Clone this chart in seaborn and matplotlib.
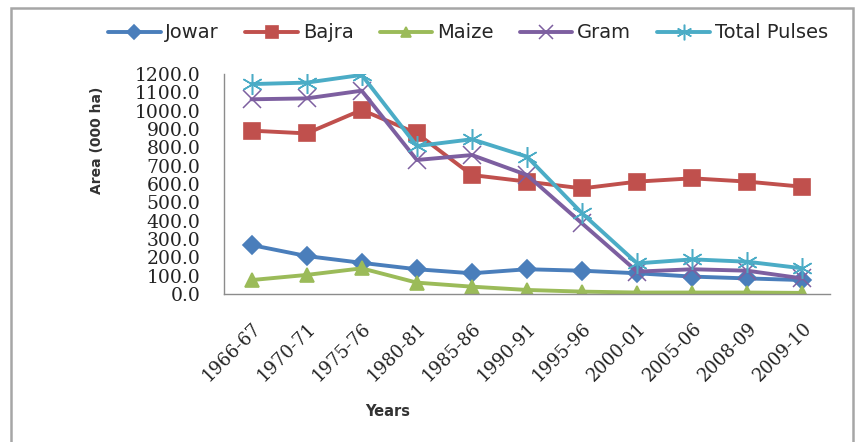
import matplotlib
matplotlib.use("Agg")
import matplotlib.pyplot as plt
from matplotlib.patches import Rectangle
import pandas as pd
import seaborn as sns

years = ["1966-67", "1970-71", "1975-76", "1980-81", "1985-86", "1990-91",
         "1995-96", "2000-01", "2005-06", "2008-09", "2009-10"]
jowar = [267, 207, 170, 135, 113, 135, 127, 113, 95, 85, 76]
bajra = [891, 876, 1004, 876, 649, 613, 576, 613, 631, 613, 585]
maize = [76, 104, 140, 62, 40, 22, 13, 8, 8, 8, 6]
gram = [1062, 1067, 1109, 731, 758, 649, 385, 122, 135, 127, 85]
total_pulses = [1145, 1153, 1195, 807, 844, 749, 440, 167, 189, 176, 140]
yticks = [0, 100, 200, 300, 400, 500, 600, 700, 800, 900, 1000, 1100, 1200]

series = {
    "Jowar": jowar,
    "Bajra": bajra,
    "Maize": maize,
    "Gram": gram,
    "Total Pulses": total_pulses,
}
df = pd.DataFrame(
    [(i, yr, name, v) for name, vals in series.items()
     for i, (yr, v) in enumerate(zip(years, vals))],
    columns=["pos", "Year", "Crop", "Area"],
)

colors = {
    "Jowar": "#4a7ebb",
    "Bajra": "#c0504d",
    "Maize": "#9bbb59",
    "Gram": "#7d5fa0",
    "Total Pulses": "#4bacc6",
}
markers = {
    "Jowar": "D",
    "Bajra": "s",
    "Maize": "^",
    "Gram": "x",
    "Total Pulses": (6, 2, 0),
}
sizes = {"Jowar": 9, "Bajra": 12, "Maize": 10, "Gram": 13, "Total Pulses": 15}
edge_w = {"Jowar": 1.2, "Bajra": 1.2, "Maize": 1.2, "Gram": 1.1, "Total Pulses": 1.1}

sns.set_style("white")
plt.rcParams["font.family"] = ["DejaVu Sans"]

fig = plt.figure(figsize=(8.56, 4.42), dpi=100)
ax = fig.add_axes([224 / 856, 1 - 294 / 442, (830 - 224) / 856, (294 - 74) / 442])

for name in series:
    sub = df[df["Crop"] == name]
    sns.lineplot(
        data=sub, x="pos", y="Area", color=colors[name], marker=markers[name],
        markersize=sizes[name], markeredgecolor=colors[name],
        markeredgewidth=edge_w[name], linewidth=2.8, sort=False, ax=ax,
    )

ax.set_xlim(-0.5, len(years) - 0.5)
ax.set_ylim(0, 1200)
ax.set_yticks(yticks)
ax.set_yticklabels([f"{v:.1f}" for v in yticks], family="DejaVu Serif",
                   fontsize=13.5, color="#222222")
ax.set_xticks(range(len(years)))
ax.set_xticklabels(years, rotation=45, ha="right", rotation_mode="anchor",
                   family="DejaVu Serif", fontsize=13, color="#222222")
ax.tick_params(axis="y", length=0, pad=17)
ax.tick_params(axis="x", length=0, pad=18)
ax.set_xlabel("")
ax.set_ylabel("")
for side in ("top", "right"):
    ax.spines[side].set_visible(False)
for side in ("left", "bottom"):
    ax.spines[side].set_color("#8c8c8c")
    ax.spines[side].set_linewidth(1.0)

fig.text(97 / 856, 1 - 140 / 442, "Area (000 ha)", rotation=90, ha="center",
         va="center", fontsize=10, fontweight="bold", color="#333333")
fig.text(388 / 856, 1 - 412 / 442, "Years", ha="center", va="center",
         fontsize=10.5, fontweight="bold", color="#333333")

handles = [
    plt.Line2D([], [], color=colors[n], marker=markers[n], linewidth=2.8,
               markersize=sizes[n] * 0.75, markeredgecolor=colors[n],
               markeredgewidth=edge_w[n])
    for n in series
]
fig.legend(handles, list(series.keys()), loc="center",
           bbox_to_anchor=(468 / 856, 1 - 33 / 442), ncol=5, frameon=False,
           fontsize=14, handlelength=2.7, handletextpad=0.25, columnspacing=1.35)

fig.patches.append(Rectangle((11 / 856, -0.02), (853 - 11) / 856, 1 - 8 / 442 + 0.02,
                             transform=fig.transFigure, fill=False,
                             edgecolor="#a6a6a6", linewidth=1.8))

fig.savefig("out.png", dpi=100, facecolor="white")
